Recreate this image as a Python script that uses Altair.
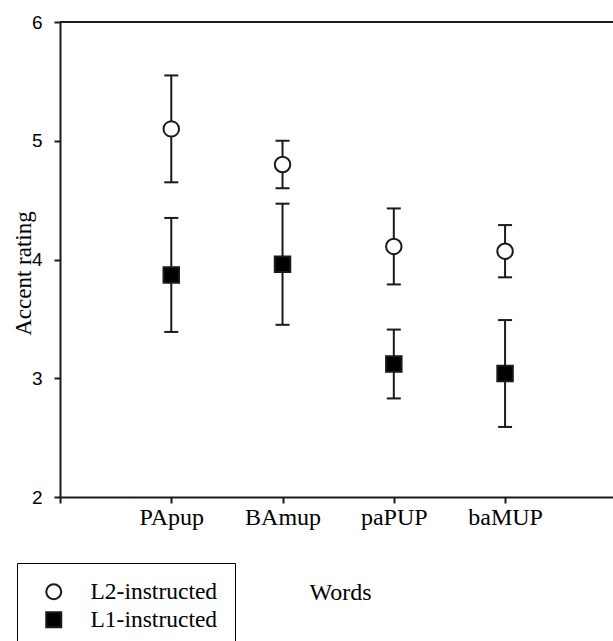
import altair as alt
import pandas as pd

# Words on the x axis (plotted at positions 1..4)
words = ["PApup", "BAmup", "paPUP", "baMUP"]
word_pos = [1, 2, 3, 4]

# Groups
groups = ["L2-instructed", "L1-instructed"]

# Mean accent rating and error (half-width of bar) per word
l2_mean = [5.10, 4.80, 4.11, 4.07]
l2_err = [0.45, 0.20, 0.32, 0.22]
l1_mean = [3.87, 3.96, 3.12, 3.04]
l1_err = [0.48, 0.51, 0.29, 0.45]

y_ticks = [2, 3, 4, 5, 6]

rows = []
for g, means, errs in [(groups[0], l2_mean, l2_err), (groups[1], l1_mean, l1_err)]:
    for w, p, m, e in zip(words, word_pos, means, errs):
        rows.append({"group": g, "word": w, "pos": p, "mean": m, "lo": m - e, "hi": m + e})
df = pd.DataFrame(rows)

W, H = 553, 475
INK = "#1a1a1a"
SERIF = "Liberation Serif"
SANS = "Liberation Sans"

x_scale = alt.Scale(domain=[0, 4.97], nice=False, zero=False)
y_scale = alt.Scale(domain=[min(y_ticks), max(y_ticks)], nice=False, zero=False)

label_list = "[" + ",".join(["''"] + [f"'{w}'" for w in words]) + "]"
x_axis = alt.Axis(
    values=[0] + word_pos,
    labelExpr=f"{label_list}[datum.value]",
    labelFont=SERIF, labelFontSize=24, labelPadding=2, labelColor="black",
    title="Words", titleFont=SERIF, titleFontSize=24, titleFontWeight="normal",
    titleX=280, titleY=95, titleAlign="center", titleBaseline="middle", titleAngle=0,
    titleColor="black",
)
y_axis = alt.Axis(
    values=y_ticks, format="d",
    labelFont=SANS, labelFontSize=19, labelPadding=12, labelColor="black",
    title="Accent rating", titleFont=SERIF, titleFontSize=23, titleFontWeight="normal",
    titleX=-37, titleY=251, titleAlign="center", titleBaseline="middle", titleAngle=-90,
    titleColor="black",
)

x_enc = alt.X("pos:Q", scale=x_scale, axis=x_axis)

base = alt.Chart(df)

bars = base.mark_rule(strokeWidth=2, color=INK).encode(
    x=x_enc,
    y=alt.Y("lo:Q", scale=y_scale, axis=y_axis),
    y2="hi:Q",
)
cap_hi = base.mark_tick(orient="horizontal", size=14, thickness=2, color=INK, opacity=1).encode(
    x=x_enc, y=alt.Y("hi:Q", scale=y_scale)
)
cap_lo = base.mark_tick(orient="horizontal", size=14, thickness=2, color=INK, opacity=1).encode(
    x=x_enc, y=alt.Y("lo:Q", scale=y_scale)
)

legend = alt.Legend(
    title=None, orient="none", legendX=-43, legendY=541,
    strokeColor="black", padding=17, fillColor="white",
    labelFont=SERIF, labelFontSize=23.5, labelColor="black", labelOffset=25,
    symbolOffset=8, symbolSize=225, symbolStrokeColor=INK, symbolStrokeWidth=2,
    rowPadding=3,
)

points = base.mark_point(filled=True, size=240, strokeWidth=2, opacity=1).encode(
    x=x_enc,
    y=alt.Y("mean:Q", scale=y_scale),
    shape=alt.Shape("group:N", scale=alt.Scale(domain=groups, range=["circle", "square"]), legend=legend),
    fill=alt.Fill("group:N", scale=alt.Scale(domain=groups, range=["white", "black"]), legend=legend),
    stroke=alt.Stroke("group:N", scale=alt.Scale(domain=groups, range=[INK, INK]), legend=legend),
)

# Top frame line at the upper end of the y range
top_line = alt.Chart(pd.DataFrame({"y": [max(y_ticks)]})).mark_rule(strokeWidth=2, color=INK).encode(
    y=alt.Y("y:Q", scale=y_scale), x=alt.value(0), x2=alt.value(W)
)

chart = alt.layer(top_line, bars, cap_hi, cap_lo, points).properties(
    width=W, height=H,
    autosize=alt.AutoSizeParams(type="none"),
    padding={"left": 60, "top": 22, "right": 0, "bottom": 144},
).configure_view(stroke=None).configure_axis(
    grid=False, domainColor=INK, domainWidth=2, tickColor=INK, tickWidth=2, tickSize=6,
)

chart.save("out.html", embed_options={"renderer": "svg", "actions": False})
